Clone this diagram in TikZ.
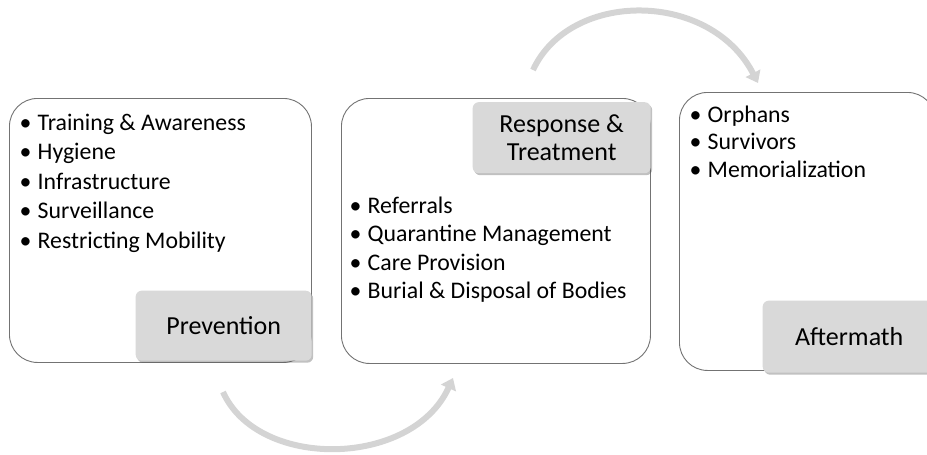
\documentclass[tikz,border=0pt]{standalone}
\usepackage{fontspec}
\setmainfont{Carlito}
\usetikzlibrary{positioning}
\usetikzlibrary{shadows}
\usetikzlibrary{arrows.meta}

\newcommand{\bul}{\makebox[18pt][l]{\textbullet}}

\tikzset{
  panel/.style={draw=black!55, line width=0.9pt, fill=white, rounded corners=28pt, inner sep=0pt, anchor=north west},
  tag/.style={fill=black!15, rounded corners=6pt, inner sep=0pt, align=center,
    font=\fontsize{26}{28}\selectfont,
    drop shadow={shadow xshift=1.5pt, shadow yshift=-2pt, opacity=0.35, fill=black!70}},
  item/.style={anchor=base west, inner sep=0pt, font=\fontsize{23.8}{29}\selectfont},
  bendarrow/.style={line width=6pt, draw=black!17, -{Triangle[length=11pt, width=16pt]}}
}

\begin{document}
\begin{tikzpicture}[x=1pt, y=-1pt]
    \useasboundingbox (0,0) rectangle (927,455);

    % the three stages
    \node [panel, minimum width=302, minimum height=264] (prev) at (9,98) {};
    \node [panel, minimum width=309, minimum height=265] (resp) at (341,98) {};
    \node [panel, minimum width=256, minimum height=278] (after) at (679,92) {};

    % stage names
    \node [tag, minimum width=176, minimum height=70, anchor=south east] (prevtag)
        at ([yshift=2pt]prev.south east) {Prevention};
    \node [tag, minimum width=178, minimum height=71, anchor=north east] (resptag)
        at ([yshift=-4pt]resp.north east) {Response \&\\Treatment};
    \node [tag, minimum width=173, minimum height=72, anchor=south east] (aftertag)
        at ([yshift=-2pt]after.south east) {Aftermath};

    % lists
    \foreach \t [count=\i] in {Training \& Awareness, Hygiene, Infrastructure, Surveillance, Restricting Mobility}
        \node [item] (prev\i) at (19.5, 130+29.6*\i-29.6) {\bul\t};
    \foreach \t [count=\i] in {Referrals, Quarantine Management, Care Provision, Burial \& Disposal of Bodies}
        \node [item] (resp\i) at (349.5, 213+28.5*\i-28.5) {\bul\t};
    \foreach \t [count=\i] in {Orphans, Survivors, Memorialization}
        \node [item] (after\i) at (689.5, 122+27.5*\i-27.5) {\bul\t};

    % curved arrows
    \coordinate (up1) at (533,70);
    \coordinate (up2) at (758,83);
    \coordinate (down1) at (223,392);
    \coordinate (down2) at (453,378);
    \draw [bendarrow] (up1) .. controls (570,-10) and (710,-10) .. (up2);
    \draw [bendarrow] (down1) .. controls (258,470) and (412,468) .. (down2);

\end{tikzpicture}
\end{document}
